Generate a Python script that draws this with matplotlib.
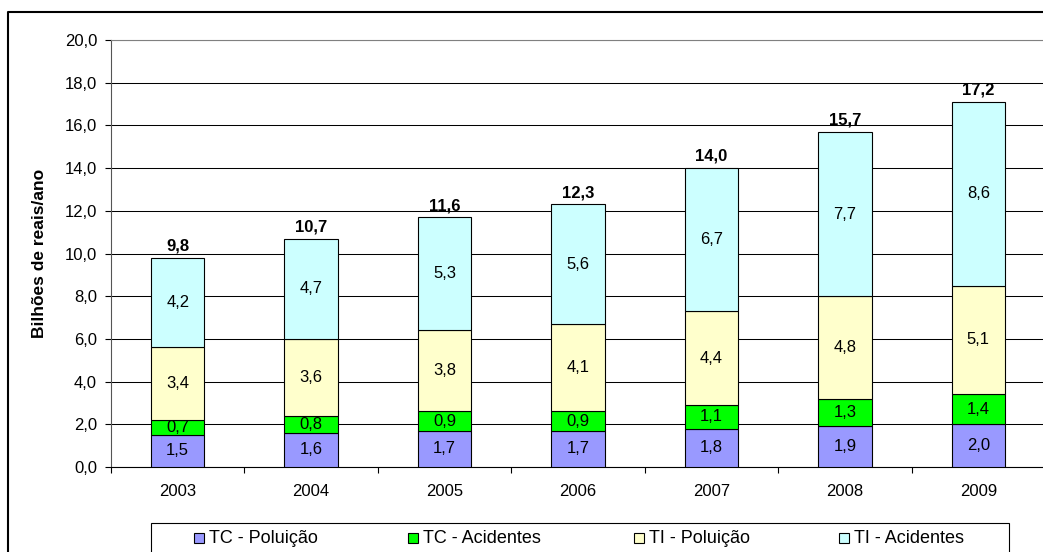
import matplotlib
matplotlib.use('Agg')
import matplotlib.pyplot as plt
from matplotlib.patches import Rectangle
from matplotlib.lines import Line2D
import numpy as np

# ---------------- data ----------------
years = ['2003', '2004', '2005', '2006', '2007', '2008', '2009']
tc_poluicao = [1.5, 1.6, 1.7, 1.7, 1.8, 1.9, 2.0]
tc_acidentes = [0.7, 0.8, 0.9, 0.9, 1.1, 1.3, 1.4]
ti_poluicao = [3.4, 3.6, 3.8, 4.1, 4.4, 4.8, 5.1]
ti_acidentes = [4.2, 4.7, 5.3, 5.6, 6.7, 7.7, 8.6]
totals = [9.8, 10.7, 11.6, 12.3, 14.0, 15.7, 17.2]
series_names = ['TC - Poluição', 'TC - Acidentes', 'TI - Poluição', 'TI - Acidentes']
y_ticks = [0, 2, 4, 6, 8, 10, 12, 14, 16, 18, 20]
y_label = 'Bilhões de reais/ano'

# ---------------- style ----------------
colors = ['#9999FF', '#00FF00', '#FFFFCC', '#CCFFFF']
plt.rcParams['font.family'] = ['Liberation Sans', 'DejaVu Sans']
FS = 12
FS_LEG = 13


def fmt(v):
    return f'{v:.1f}'.replace('.', ',')


W, H = 1043, 552
fig = plt.figure(figsize=(W / 100, H / 100), dpi=100)
fig.patch.set_alpha(0)


def box(x0, y0, x1, y1):
    return (x0 / W, 1 - y1 / H, (x1 - x0) / W, (y1 - y0) / H)


AX_L, AX_T, AX_R, AX_B = 111, 40, 1045, 467

# opaque white chart area around the (transparent) plot area
for (x0, y0, x1, y1) in [(0, 0, W, AX_T), (0, AX_T, AX_L, AX_B), (0, AX_B, W, H)]:
    l, b, w, h = box(x0, y0, x1, y1)
    fig.add_artist(Rectangle((l, b), w, h, transform=fig.transFigure,
                             facecolor='white', edgecolor='none',
                             antialiased=False, zorder=-5))

# outer chart border (top and left visible)
fig.add_artist(Line2D([8 / W, 8 / W, 1.0], [0.0, 1 - 12 / H, 1 - 12 / H],
                      transform=fig.transFigure, color='black', lw=1.5, zorder=-4))

ax = fig.add_axes(box(AX_L, AX_T, AX_R, AX_B))
ax.set_facecolor('none')

x = np.arange(len(years))
series = [tc_poluicao, tc_acidentes, ti_poluicao, ti_acidentes]
bottom = np.zeros(len(years))
containers = []
for vals, col in zip(series, colors):
    bc = ax.bar(x, vals, 0.4, bottom=bottom, color=col, edgecolor='black',
                linewidth=0.8, zorder=3)
    ax.bar_label(bc, labels=[fmt(v) for v in vals], label_type='center',
                 fontsize=FS, color='black')
    containers.append(bc)
    bottom = bottom + np.array(vals)

ax.bar_label(containers[-1], labels=[fmt(t) for t in totals], padding=3,
             fontsize=FS, fontweight='bold', color='black')

ax.set_xlim(-0.5, len(years) - 0.5)
ax.set_ylim(0, 20)
ax.set_yticks(y_ticks)
ax.set_yticklabels([fmt(t) for t in y_ticks])
ax.set_xticks(x)
ax.set_xticklabels(years)
ax.set_xticks(np.arange(-0.5, len(years), 1), minor=True)

ax.tick_params(axis='y', direction='out', length=4, width=0.8, pad=6,
               labelsize=FS, colors='black')
ax.tick_params(axis='x', which='major', length=0, pad=12, labelsize=FS)
ax.tick_params(axis='x', which='minor', direction='out', length=4, width=0.8)

ax.set_axisbelow(True)
ax.yaxis.grid(True, color='black', lw=0.75)

ax.spines['left'].set_color('#555555')
ax.spines['bottom'].set_color('black')
ax.spines['top'].set_color('#808080')
ax.spines['right'].set_visible(False)
for s in ax.spines.values():
    s.set_linewidth(0.8)

fig.text(40 / W, 1 - ((AX_T + AX_B) / 2) / H, y_label, rotation=90,
         ha='center', va='center', fontsize=12.5, fontweight='bold')

# legend box (Excel style, drawn at bottom)
l, b, w, h = box(151, 523, 1009, 575)
fig.add_artist(Rectangle((l, b), w, h, transform=fig.transFigure,
                         facecolor='white', edgecolor='black', lw=0.8, zorder=5))
legend_x = [194, 408, 634, 839]
for name, col, mx in zip(series_names, colors, legend_x):
    l, b, w, h = box(mx, 533, mx + 10, 543)
    fig.add_artist(Rectangle((l, b), w, h, transform=fig.transFigure,
                             facecolor=col, edgecolor='black', lw=0.8, zorder=6))
    fig.text((mx + 15) / W, 1 - 538.5 / H, name, ha='left', va='center',
             fontsize=FS_LEG, zorder=6)

fig.savefig('out.png', dpi=100, facecolor='none')
